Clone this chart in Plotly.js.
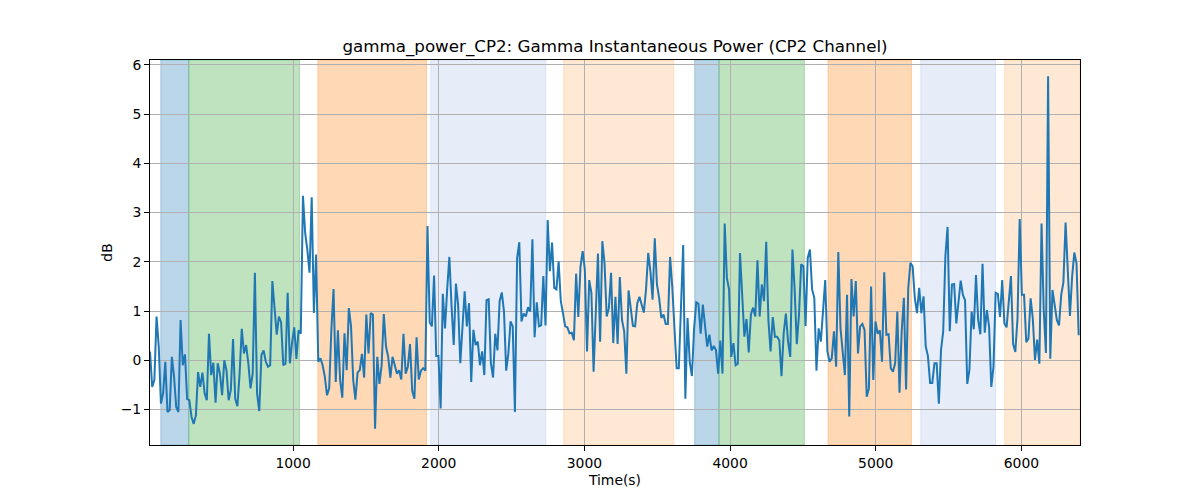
<!DOCTYPE html>
<html>
<head>
<meta charset="utf-8">
<script src="https://cdn.plot.ly/plotly-3.0.1.min.js"></script>
<style>
  html, body { margin: 0; padding: 0; background: #fff; }
  #chart { width: 1200px; height: 500px; }
</style>
</head>
<body>
<div id="chart"></div>
<script>
// sampling of the gamma power trace (seconds)
var startTime = 18;
var sampleStep = 15;

// gamma power, dB
var power = [
  0.18, -0.54, -0.4, 0.89, 0.28, -0.88, -0.67, -0.03, -1.05, -1.01,
  0.07, -0.33, -0.95, -1.05, 0.82, -0.1, 0.12, -0.79, -0.81, -1.15,
  -1.29, -1.12, -0.24, -0.54, -0.25, -0.67, -0.81, 0.54, -0.3, -0.05,
  -0.86, -0.06, -0.27, -0.71, 0.0, -0.2, -0.81, -0.6, 0.43, -0.78,
  -0.93, -0.27, 0.64, 0.14, 0.31, -0.06, -0.57, -0.27, 1.78, -0.67,
  -1.03, 0.11, 0.2, -0.03, -0.13, -0.1, 1.61, 1.1, 0.52, 0.89,
  0.77, -0.1, -0.07, 1.37, -0.06, 0.35, 0.67, 0.03, 0.61, 0.54,
  3.34, 2.59, 2.25, 1.78, 3.31,

  0.96, 2.15, -0.03, 0.04, -0.1, -0.33, -0.71, -0.57, 0.62, 1.45,
  -0.44, 0.61, -0.4, -0.76, 0.55, -0.2, 1.06, 0.69, -0.4, -0.8,
  -0.25, -0.2, 0.13, -0.35, 0.93, 0.14, 0.96, 0.93, -1.39, 0.07,
  -0.48, -0.1, 0.94, 0.28, 0.07, -0.35, 0.07, -0.13, -0.27, -0.2,
  -0.39, 0.54, -0.27, -0.13, 0.33, -0.62, -0.78, 0.47, -0.39, -0.21,
  -0.16, -0.21, 2.73, 0.77, 0.69, 1.72, 0.09, 0.09, -0.98, 1.35,
  0.65, 1.44, 2.1, 1.1, 0.31, 1.56, 1.13, -0.06, 0.82, 1.4,
  0.69, 1.16, -0.44,

  0.62, 0.31, 0.38, -0.1, 0.18, -0.3, 1.22, 1.24, -0.06, -0.35,
  0.54, 0.2, 1.2, 1.38, 0.99, -0.21, 0.14, 0.79, 0.69, -1.05,
  2.08, 2.4, 0.79, 0.95, 0.89, 1.08, 0.99, 2.46, 0.47, 1.18,
  0.69, 0.71, 1.71, 0.71, 2.85, 1.81, 2.39, 1.47, 1.44, 2.01,
  1.2, 0.96, 0.69, 0.67, 0.55, 0.56, 0.41, 1.76, 0.88, 1.9,
  2.22, 1.84, 0.18, 1.63, 1.37, -0.23, 0.96, 2.17, 0.38, 2.42,
  1.98, 0.89, 1.06, 1.78, 0.35, 1.29, 0.33, 1.69, 0.82, 0.59,
  -0.27, 1.42, 1.06, 0.7,

  0.69, 1.16, 1.29, 1.15, 0.97, 1.44, 2.18, 1.81, 1.23, 2.48,
  1.54, 1.27, 0.86, 0.93, 0.74, 0.74, 2.1, 1.5, 0.62, -0.16,
  -0.16, 1.3, 2.34, -0.78, 0.86, -0.03, -0.32, 0.65, 1.18, 1.15,
  0.54, 1.13, 0.76, 0.28, 0.52, 0.2, 0.29, 0.21, -0.27, 0.4,
  -0.27, 2.78, 1.67, 1.44, 0.07, 0.35, -0.1, -0.07, 2.18, 1.4,
  0.48, 0.84, 0.16, 0.93, 1.07, 0.89, 2.03, 0.89, 1.54, 1.2,
  2.41, 0.82, 0.18, 0.88, 0.48, 0.48, 0.4, -0.32, 0.55, 0.95,
  0.38, 0.07, 2.25,

  1.44, 0.33, 0.93, 1.95, 1.91, 0.7, 2.08, 2.25, 1.44, 1.27,
  -0.21, 0.65, 0.38, 1.1, 1.63, 0.18, -0.03, 0.04, 0.59, -0.13,
  2.2, 0.65, 0.21, -0.3, 1.33, -1.14, 1.65, 0.89, 1.61, 0.14,
  0.69, 0.74, 0.62, -0.74, -0.57, 1.5, -0.4, 0.79, 0.54, 0.61,
  -0.03, 1.79, 0.52, 0.53, -0.16, -0.23, -0.06, 0.99, -0.66, 0.59,
  1.27, -0.59, 1.47, 1.98, 1.91, 1.27, 0.96, 1.47, 0.96, 1.3,
  0.28, 0.09, -0.46, -0.46, -0.06, -0.06, -0.88, 0.21, 0.59, 2.12,
  2.71, 0.59, 1.54,

  1.55, 0.75, 1.22, 1.62, 1.33, 1.22, -0.48, -0.19, 0.99, 0.63,
  1.73, 0.82, 0.53, 1.96, 0.56, 1.02, 0.68, -0.54, -0.14, 1.37,
  1.35, 0.88, 1.63, 0.75, 0.67, 1.12, 1.71, 0.33, 0.17, 0.85,
  2.87, 1.33, 1.33, 0.37, 0.44, 1.26, 0.85, 0.01, 0.42, -0.07,
  2.78, 1.02, 0.15, 5.77, 0.03, 1.43, 1.16, 0.82, 0.71, 1.33,
  1.58, 2.8, 1.84, 0.9, 1.7, 2.19, 1.97, 0.51
];

// shaded epochs
var spanStart = [92, 284, 1170, 1945, 2858, 3757, 3924, 4672, 5309, 5885];
var spanEnd   = [284, 1044, 1916, 2735, 3613, 3924, 4510, 5245, 5822, 6402];
var spanColor = [
  'rgba(31,119,180,0.3)', 'rgba(44,160,44,0.3)', 'rgba(255,127,14,0.3)',
  'rgba(100,140,220,0.16)', 'rgba(255,127,14,0.18)',
  'rgba(31,119,180,0.3)', 'rgba(44,160,44,0.3)', 'rgba(255,127,14,0.3)',
  'rgba(100,140,220,0.16)', 'rgba(255,127,14,0.18)'
];

var yTicks = [-1, 0, 1, 2, 3, 4, 5, 6];
var xTicks = [1000, 2000, 3000, 4000, 5000, 6000];

var times = power.map(function (v, i) { return startTime + i * sampleStep; });

var trace = {
  type: 'scatter',
  mode: 'lines',
  x: times,
  y: power,
  line: {color: '#1f77b4', width: 2},
  hoverinfo: 'x+y'
};

var shapes = spanStart.map(function (s, i) {
  return {
    type: 'rect', xref: 'x', yref: 'paper',
    x0: s, x1: spanEnd[i], y0: 0, y1: 1,
    fillcolor: spanColor[i],
    line: {color: spanColor[i], width: 1},
    layer: 'below'
  };
});

var axisStyle = {
  showline: true, mirror: true, linecolor: '#000', linewidth: 1,
  ticks: 'outside', ticklen: 5, tickwidth: 1, tickcolor: '#000',
  showgrid: true, gridcolor: '#b0b0b0', gridwidth: 1,
  zeroline: false,
  tickfont: {family: 'DejaVu Sans', size: 13.9, color: '#000'}
};

var layout = {
  width: 1200, height: 500,
  margin: {l: 150, r: 120, t: 60, b: 55},
  paper_bgcolor: '#fff', plot_bgcolor: 'rgba(0,0,0,0)',
  showlegend: false,
  font: {family: 'DejaVu Sans', color: '#000'},
  title: {
    text: 'gamma_power_CP2: Gamma Instantaneous Power (CP2 Channel)',
    font: {family: 'DejaVu Sans', size: 16.7, color: '#000'},
    x: 0.5125, xanchor: 'center', y: 0.908, yanchor: 'middle'
  },
  xaxis: Object.assign({}, axisStyle, {
    range: [18, 6402],
    tickvals: xTicks,
    title: {text: 'Time(s)', font: {family: 'DejaVu Sans', size: 13.9}, standoff: 5}
  }),
  yaxis: Object.assign({}, axisStyle, {
    range: [-1.72, 6.1],
    tickvals: yTicks,
    tickformat: 'd',
    title: {text: 'dB', font: {family: 'DejaVu Sans', size: 13.9}, standoff: 4}
  }),
  shapes: shapes
};

Plotly.newPlot('chart', [trace], layout, {displayModeBar: false, staticPlot: true});
</script>
</body>
</html>
